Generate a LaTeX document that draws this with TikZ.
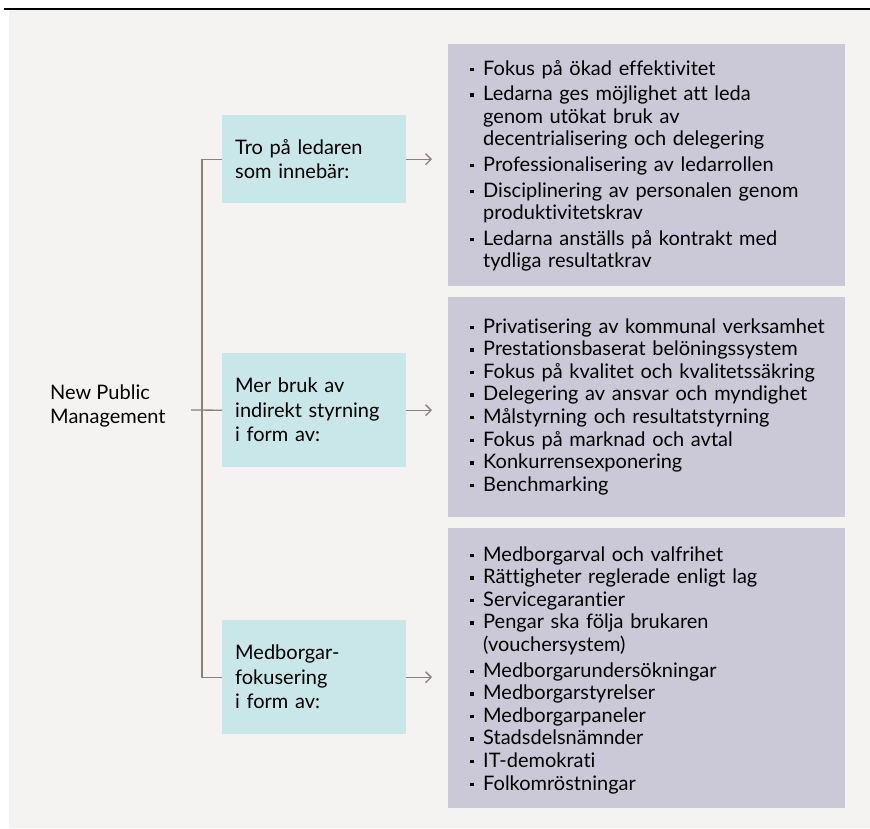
\documentclass[tikz,border=0pt]{standalone}
\usepackage{fontspec}
\setmainfont{Lato}[Ligatures=NoCommon]
\usetikzlibrary{arrows.meta}
\definecolor{bg}{HTML}{F4F3F1}
\definecolor{cyanbox}{HTML}{C9E6E8}
\definecolor{lilac}{HTML}{CBC8D8}
\definecolor{stem}{HTML}{8E7F79}
\newcommand\blt{\makebox[13pt][l]{\rule[4pt]{3.4pt}{3.4pt}}}
\newcommand\indt{\hspace*{13pt}}
\tikzset{
  head/.style={anchor=north west, fill=cyanbox, text width=158pt, inner xsep=13pt, inner ysep=0pt,
    align=left, minimum height=114pt, font=\fontsize{20}{24.5}\selectfont},
  panel/.style={anchor=north west, fill=lilac, minimum width=397pt, inner sep=0pt},
  list/.style={anchor=base west, text width=370pt, inner sep=0pt, align=left,
    font=\fontsize{20}{22.6}\selectfont},
  stemline/.style={draw=stem, line width=1.3pt},
  pointer/.style={stemline, -{Straight Barb[length=5.5pt,width=11pt]}, shorten >=16pt}
}
\begin{document}
\begin{tikzpicture}[x=1pt, y=-1pt]
\useasboundingbox (0,0) rectangle (870,828);
\fill[bg] (9,10) rectangle (870,828);
\draw[line width=1.5pt] (4,9) -- (870,9);

\node[panel, minimum height=242pt] (p1) at (448,44) {};
\node[panel, minimum height=220pt] (p2) at (448,297) {};
\node[panel, minimum height=280pt] (p3) at (448,528) {};

\node[list] (l1) at (470,75) {\blt Fokus på ökad effektivitet\\[3pt]
  \blt Ledarna ges möjlighet att leda\\
  \indt genom utökat bruk av\\
  \indt decentrialisering och delegering\\[3pt]
  \blt Professionalisering av ledarrollen\\[3pt]
  \blt Disciplinering av personalen genom\\
  \indt produktivitetskrav\\[3pt]
  \blt Ledarna anställs på kontrakt med\\
  \indt tydliga resultatkrav};
\node[list] (l2) at (470,333) {\blt Privatisering av kommunal verksamhet\\
  \blt Prestationsbaserat belöningssystem\\
  \blt Fokus på kvalitet och kvalitetssäkring\\
  \blt Delegering av ansvar och myndighet\\
  \blt Målstyrning och resultatstyrning\\
  \blt Fokus på marknad och avtal\\
  \blt Konkurrensexponering\\
  \blt Benchmarking};
\node[list] (l3) at (470,561) {\blt Medborgarval och valfrihet\\
  \blt Rättigheter reglerade enligt lag\\
  \blt Servicegarantier\\
  \blt Pengar ska följa brukaren\\
  \indt (vouchersystem)\\[3pt]
  \blt Medborgarundersökningar\\
  \blt Medborgarstyrelser\\
  \blt Medborgarpaneler\\
  \blt Stadsdelsnämnder\\
  \blt IT-demokrati\\
  \blt Folkomröstningar};

\node[head, minimum height=88pt] (c1) at (222,115) {Tro på ledaren\\som innebär:};
\node[head] (c2) at (222,353) {Mer bruk av\\indirekt styrning\\i form av:};
\node[head] (c3) at (222,620) {Medborgar-\\fokusering\\i form av:};

\node[anchor=west, inner sep=0pt, align=left, font=\fontsize{20}{24.5}\selectfont] (npm) at (50,406) {New Public\\Management};

\coordinate (stub) at (191,410);
\coordinate (trunk) at (202,0);
\draw[stemline] (c1.west) -| (trunk |- c3.west) -- (c3.west);
\draw[stemline] (stub) -- (c2.west);
\foreach \i in {1,2,3}
  \draw[pointer] (c\i.east) -- (c\i.east -| p\i.west);
\end{tikzpicture}
\end{document}
